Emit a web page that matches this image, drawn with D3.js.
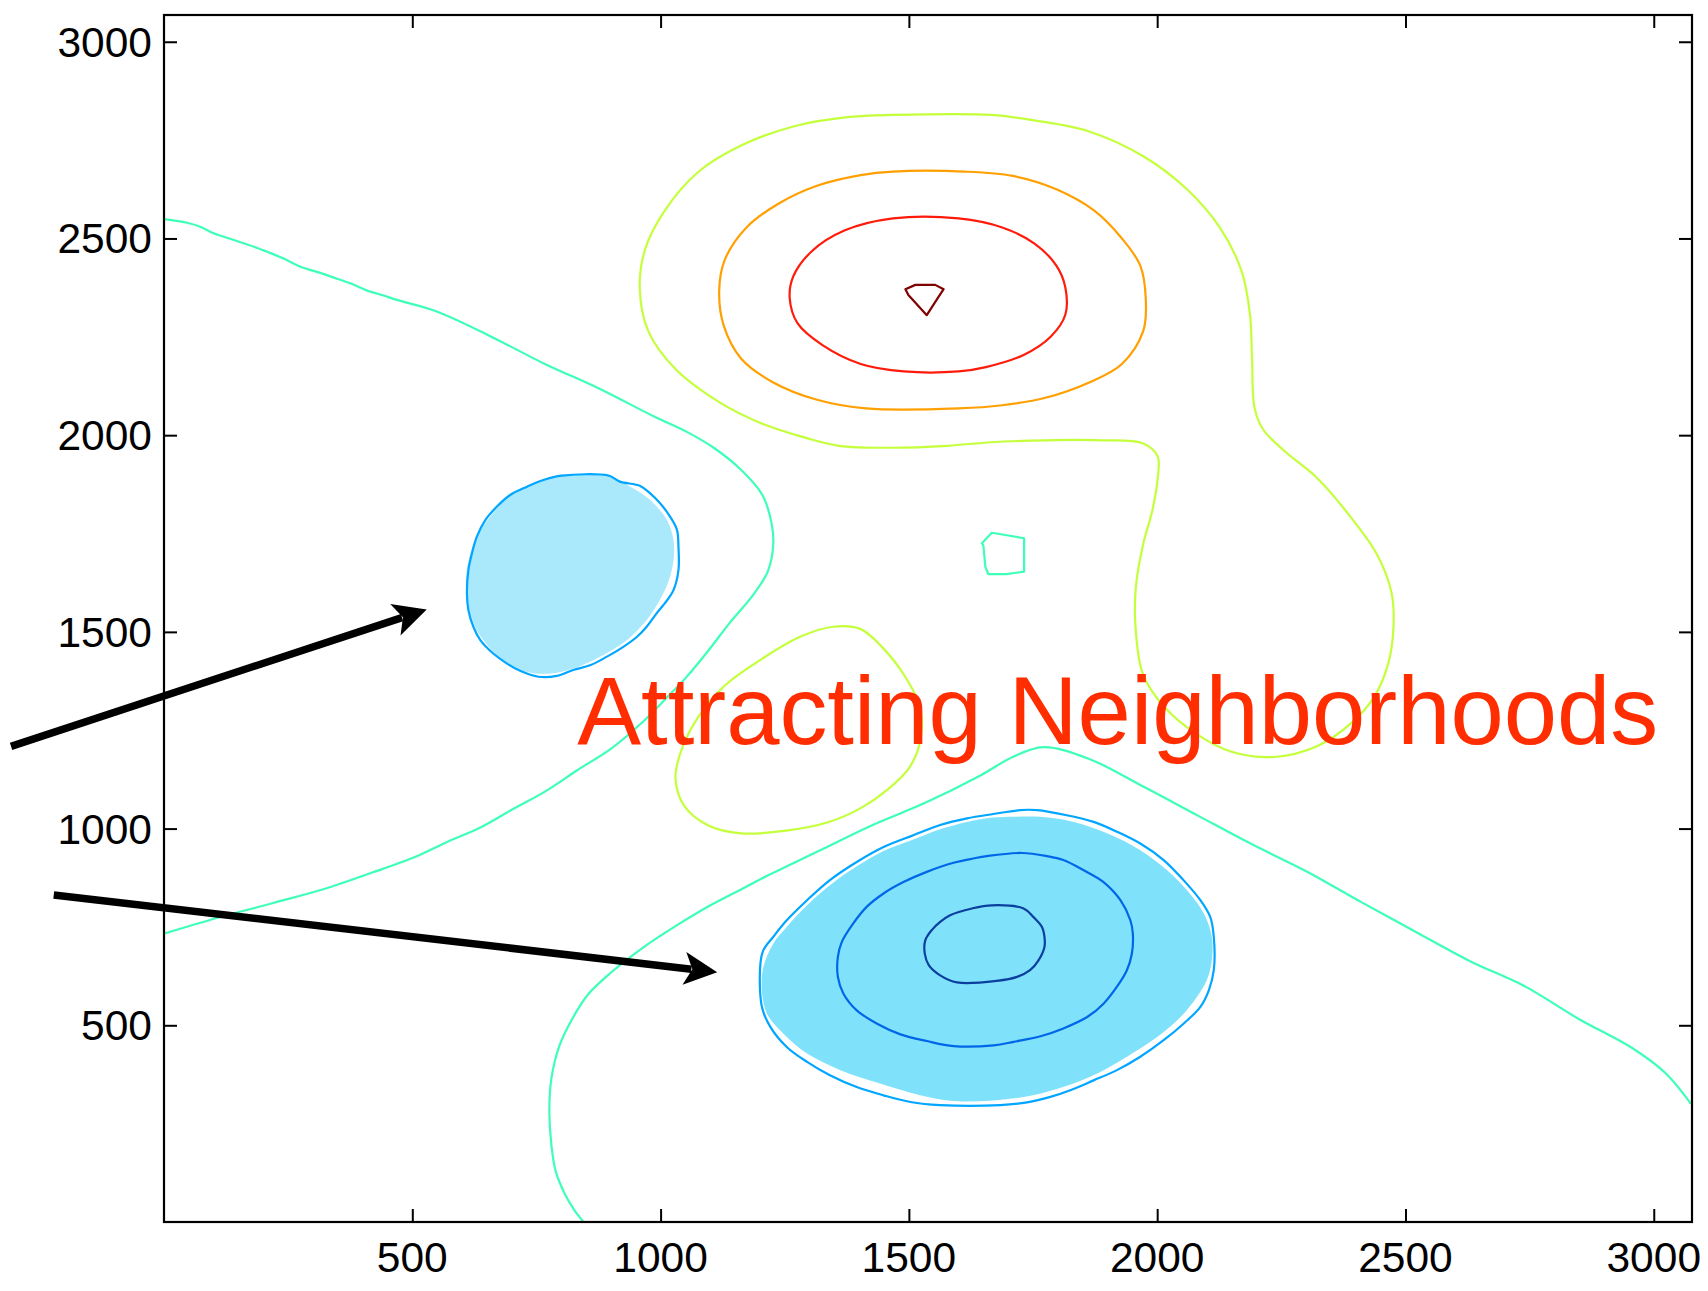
<!DOCTYPE html>
<html>
<head>
<meta charset="utf-8">
<script src="https://cdn.jsdelivr.net/npm/d3@7"></script>
<style>
  html, body { margin: 0; padding: 0; background: #ffffff; }
  svg { display: block; }
</style>
</head>
<body>
<svg id="chart" width="1708" height="1291"></svg>
<script>
// ---------- data (data units) ----------
const xTicks = [500, 1000, 1500, 2000, 2500, 3000];
const yTicks = [500, 1000, 1500, 2000, 2500, 3000];
const xTickLabels = ["500", "1000", "1500", "2000", "2500", "3000"];
const yTickLabels = ["500", "1000", "1500", "2000", "2500", "3000"];

// shaded attracting neighborhoods
const fillLeft = [[838,1901],[892,1894],[939,1869],[979,1835],[1013,1784],[1026,1733],[1026,1682],[1019,1640],[1002,1589],[972,1530],[932,1479],[878,1437],[824,1407],[778,1394],[731,1398],[690,1420],[657,1458],[630,1504],[613,1564],[608,1632],[615,1691],[630,1742],[657,1793],[690,1839],[731,1869],[778,1890]];
const fillBottom = [[1711,1030],[1764,1030],[1832,1017],[1899,988],[1966,945],[2020,894],[2060,843],[2094,784],[2110,725],[2110,665],[2100,615],[2080,572],[2047,521],[2000,470],[1939,420],[1865,369],[1764,326],[1671,309],[1583,308],[1523,322],[1442,352],[1362,386],[1295,428],[1247,479],[1214,530],[1204,589],[1207,648],[1227,708],[1254,750],[1295,805],[1341,856],[1395,904],[1449,943],[1509,972],[1563,998],[1617,1017],[1670,1028]];

// aquamarine level
const aquaUpper = [[0,2549],[46,2540],[73,2530],[100,2513],[141,2496],[181,2479],[208,2466],[241,2449],[275,2428],[308,2415],[341,2401],[375,2386],[408,2368],[442,2355],[469,2344],[548,2315],[658,2251],[767,2181],[877,2118],[986,2048],[1052,2009],[1107,1968],[1162,1912],[1205,1848],[1223,1779],[1227,1724],[1216,1654],[1184,1590],[1140,1524],[1096,1452],[1052,1385],[1008,1327],[964,1271],[899,1202],[833,1149],[767,1094],[702,1049],[636,1002],[570,966],[504,927],[439,897],[329,849],[220,811],[110,774],[0,733]];
const aquaLower = [[845,0],[826,31],[807,72],[789,128],[780,197],[776,281],[780,364],[796,447],[822,516],[855,580],[899,633],[964,697],[1030,752],[1096,802],[1160,844],[1205,874],[1315,941],[1425,1008],[1534,1066],[1644,1135],[1709,1182],[1771,1207],[1863,1177],[1972,1107],[2082,1033],[2191,960],[2301,891],[2411,813],[2520,738],[2630,663],[2739,600],[2849,516],[2958,441],[3024,378],[3075,300]];
const aquaSquare = [[1647,1725],[1667,1752],[1700,1745],[1732,1738],[1732,1653],[1696,1647],[1660,1647],[1654,1665],[1650,1720]];

// yellow-green level
const yellowTop = [[1468,2814],[1666,2814],[1753,2800],[1863,2772],[1972,2709],[2060,2625],[2126,2528],[2170,2417],[2187,2306],[2191,2195],[2196,2070],[2213,2015],[2257,1959],[2323,1890],[2389,1793],[2443,1696],[2472,1599],[2476,1515],[2465,1418],[2437,1335],[2389,1266],[2323,1210],[2235,1182],[2148,1196],[2082,1238],[2016,1307],[1972,1390],[1957,1502],[1957,1613],[1972,1724],[1990,1807],[2001,1890],[2001,1946],[1972,1979],[1885,1987],[1775,1987],[1666,1982],[1578,1973],[1468,1968],[1359,1973],[1293,1993],[1205,2029],[1118,2084],[1030,2168],[975,2265],[958,2376],[969,2473],[1008,2570],[1074,2667],[1162,2736],[1271,2786],[1381,2809]];
const yellowLoop = [[1348,1513],[1403,1507],[1447,1460],[1490,1391],[1523,1307],[1523,1224],[1501,1155],[1457,1099],[1403,1052],[1337,1016],[1249,994],[1162,988],[1096,1008],[1048,1057],[1030,1127],[1041,1196],[1074,1280],[1129,1363],[1205,1432],[1282,1488]];

// orange, red, dark red levels
const orangeRing = [[1468,2670],[1611,2670],[1709,2659],[1797,2625],[1874,2570],[1929,2500],[1966,2431],[1977,2348],[1972,2265],[1929,2181],[1863,2134],[1775,2095],[1688,2076],[1600,2068],[1414,2068],[1315,2090],[1227,2134],[1162,2195],[1127,2279],[1118,2367],[1129,2445],[1173,2528],[1238,2589],[1315,2634],[1403,2661]];
const redRing = [[1468,2551],[1600,2551],[1688,2528],[1753,2487],[1797,2431],[1815,2376],[1815,2306],[1786,2251],[1731,2204],[1655,2173],[1600,2162],[1490,2162],[1403,2181],[1326,2229],[1276,2284],[1260,2348],[1267,2403],[1304,2467],[1370,2520]];
const darkRedTri = [[1493,2371],[1513,2382],[1553,2382],[1570,2371],[1560,2352],[1536,2305],[1499,2356]];

// blue levels
const blueLeft = [[801,1897],[895,1897],[918,1882],[959,1871],[979,1852],[999,1827],[1019,1793],[1033,1759],[1036,1716],[1036,1657],[1026,1606],[1013,1580],[992,1547],[972,1513],[952,1487],[925,1462],[892,1437],[858,1415],[824,1403],[791,1388],[754,1386],[717,1401],[690,1420],[663,1445],[637,1479],[623,1513],[613,1555],[610,1598],[613,1657],[620,1699],[630,1742],[647,1784],[670,1818],[697,1848],[731,1869],[764,1886]];
const blueBottom = [[1724,1047],[1758,1047],[1818,1034],[1872,1017],[1919,992],[1966,962],[2013,920],[2053,869],[2087,818],[2107,775],[2114,725],[2114,640],[2104,589],[2087,547],[2053,504],[2013,462],[1966,420],[1919,386],[1872,360],[1825,335],[1785,318],[1738,304],[1684,297],[1563,297],[1503,305],[1449,322],[1395,343],[1341,373],[1295,407],[1254,445],[1221,496],[1204,547],[1201,657],[1207,691],[1227,725],[1254,767],[1295,818],[1341,869],[1395,915],[1449,953],[1509,983],[1563,1009],[1617,1026],[1670,1037]];
const midBlueRing = [[1657,930],[1728,938],[1778,930],[1811,920],[1852,894],[1892,864],[1926,818],[1946,767],[1951,733],[1949,682],[1939,640],[1919,598],[1892,555],[1859,521],[1811,492],[1765,472],[1711,458],[1671,449],[1590,447],[1536,460],[1483,477],[1436,504],[1395,538],[1368,581],[1357,623],[1357,674],[1365,712],[1388,759],[1415,801],[1449,835],[1489,864],[1536,890],[1590,913],[1630,924]];
const darkBlueRing = [[1627,797],[1667,805],[1731,797],[1751,775],[1768,750],[1773,725],[1773,699],[1761,665],[1744,640],[1718,623],[1677,613],[1597,609],[1563,627],[1540,653],[1532,682],[1533,716],[1546,742],[1563,763],[1583,780]];

// annotations
const labelText = "Attracting Neighborhoods";
const labelPos = [832, 1215];
const arrowStarts = [[-308, 1209], [-222, 831]];
const arrowEnds = [[529, 1557], [1114, 635]];

(function () {
// ---------- drawing ----------
const svg = d3.select("#chart");
const W = 1708, H = 1291;
const pLeft = 164, pRight = 1692, pTop = 15, pBottom = 1222;

const x = d3.scaleLinear().domain([0, 3077]).range([pLeft, pRight]);
const y = d3.scaleLinear().domain([0, 3068]).range([pBottom, pTop]);

svg.append("rect").attr("width", W).attr("height", H).attr("fill", "#fff");

svg.append("defs").append("clipPath").attr("id", "plotclip")
  .append("rect").attr("x", pLeft).attr("y", pTop).attr("width", pRight - pLeft).attr("height", pBottom - pTop);

const plot = svg.append("g").attr("clip-path", "url(#plotclip)");

const closedLine = d3.line().x(d => x(d[0])).y(d => y(d[1])).curve(d3.curveCatmullRomClosed.alpha(0.5));
const openLine = d3.line().x(d => x(d[0])).y(d => y(d[1])).curve(d3.curveCatmullRom.alpha(0.5));
const linearClosed = d3.line().x(d => x(d[0])).y(d => y(d[1])).curve(d3.curveLinearClosed);

// fills
const fills = [
  { pts: fillLeft, color: "#aae9fc" },
  { pts: fillBottom, color: "#80e1fb" }
];
plot.selectAll("path.fill").data(fills).join("path")
  .attr("class", "fill")
  .attr("d", d => closedLine(d.pts))
  .attr("fill", d => d.color)
  .attr("stroke", "none");

// contour lines
const contours = [
  { pts: aquaUpper, closed: false, color: "#3effb8" },
  { pts: aquaLower, closed: false, color: "#3effb8" },
  { pts: aquaSquare, closed: true, color: "#3effb8", linear: true },
  { pts: yellowTop, closed: true, color: "#c4ff3b" },
  { pts: yellowLoop, closed: true, color: "#c4ff3b" },
  { pts: orangeRing, closed: true, color: "#ffa000" },
  { pts: redRing, closed: true, color: "#ff1a0a" },
  { pts: darkRedTri, closed: true, color: "#800000", linear: true },
  { pts: blueLeft, closed: true, color: "#00a6ff" },
  { pts: blueBottom, closed: true, color: "#00a6ff" },
  { pts: midBlueRing, closed: true, color: "#0066e8" },
  { pts: darkBlueRing, closed: true, color: "#0a3f9e" }
];
plot.selectAll("path.contour").data(contours).join("path")
  .attr("class", "contour")
  .attr("d", d => d.linear ? linearClosed(d.pts) : (d.closed ? closedLine(d.pts) : openLine(d.pts)))
  .attr("fill", "none")
  .attr("stroke", d => d.color)
  .attr("stroke-width", 2.2)
  .attr("stroke-linejoin", "round");

// axes ticks (inward on all four sides)
const tickLen = 13;
const axes = svg.append("g");
axes.append("g").attr("transform", `translate(0,${pBottom})`)
  .call(d3.axisBottom(x).tickValues(xTicks).tickSize(-tickLen).tickFormat(""));
axes.append("g").attr("transform", `translate(0,${pTop})`)
  .call(d3.axisTop(x).tickValues(xTicks).tickSize(-tickLen).tickFormat(""));
axes.append("g").attr("transform", `translate(${pLeft},0)`)
  .call(d3.axisLeft(y).tickValues(yTicks).tickSize(-tickLen).tickFormat(""));
axes.append("g").attr("transform", `translate(${pRight},0)`)
  .call(d3.axisRight(y).tickValues(yTicks).tickSize(-tickLen).tickFormat(""));
axes.selectAll(".domain").remove();
axes.selectAll(".tick line").attr("stroke", "#000").attr("stroke-width", 2);

// frame
svg.append("rect")
  .attr("x", pLeft).attr("y", pTop).attr("width", pRight - pLeft).attr("height", pBottom - pTop)
  .attr("fill", "none").attr("stroke", "#000").attr("stroke-width", 2.2);

// tick labels
const fontFam = "'Liberation Sans', Arial, Helvetica, sans-serif";
svg.append("g").selectAll("text").data(xTicks).join("text")
  .attr("x", d => x(d)).attr("y", 1272)
  .attr("text-anchor", "middle")
  .attr("font-family", fontFam).attr("font-size", 42.5).attr("fill", "#000")
  .text((d, i) => xTickLabels[i]);
svg.append("g").selectAll("text").data(yTicks).join("text")
  .attr("x", pLeft - 12).attr("y", d => y(d) + 15)
  .attr("text-anchor", "end")
  .attr("font-family", fontFam).attr("font-size", 42.5).attr("fill", "#000")
  .text((d, i) => yTickLabels[i]);

// label
svg.append("text")
  .attr("x", x(labelPos[0])).attr("y", y(labelPos[1]))
  .attr("font-family", fontFam).attr("font-size", 95.8)
  .attr("fill", "#ff2d00")
  .text(labelText);

// arrows
const arrows = arrowStarts.map((s, i) => ({ s: s, e: arrowEnds[i] }));
const ag = svg.append("g");
arrows.forEach(a => {
  const x0 = x(a.s[0]), y0 = y(a.s[1]), x1 = x(a.e[0]), y1 = y(a.e[1]);
  const dx = x1 - x0, dy = y1 - y0, L = Math.hypot(dx, dy);
  const ux = dx / L, uy = dy / L, px = -uy, py = ux;
  const headLen = 33, halfW = 16.5, notch = 25;
  ag.append("line")
    .attr("x1", x0).attr("y1", y0)
    .attr("x2", x1 - ux * (notch + 1)).attr("y2", y1 - uy * (notch + 1))
    .attr("stroke", "#000").attr("stroke-width", 7.5);
  const pts = [
    [x1, y1],
    [x1 - ux * headLen + px * halfW, y1 - uy * headLen + py * halfW],
    [x1 - ux * notch, y1 - uy * notch],
    [x1 - ux * headLen - px * halfW, y1 - uy * headLen - py * halfW]
  ];
  ag.append("path").attr("d", "M" + pts.map(p => p.join(",")).join("L") + "Z").attr("fill", "#000");
});
})();
</script>
</body>
</html>
